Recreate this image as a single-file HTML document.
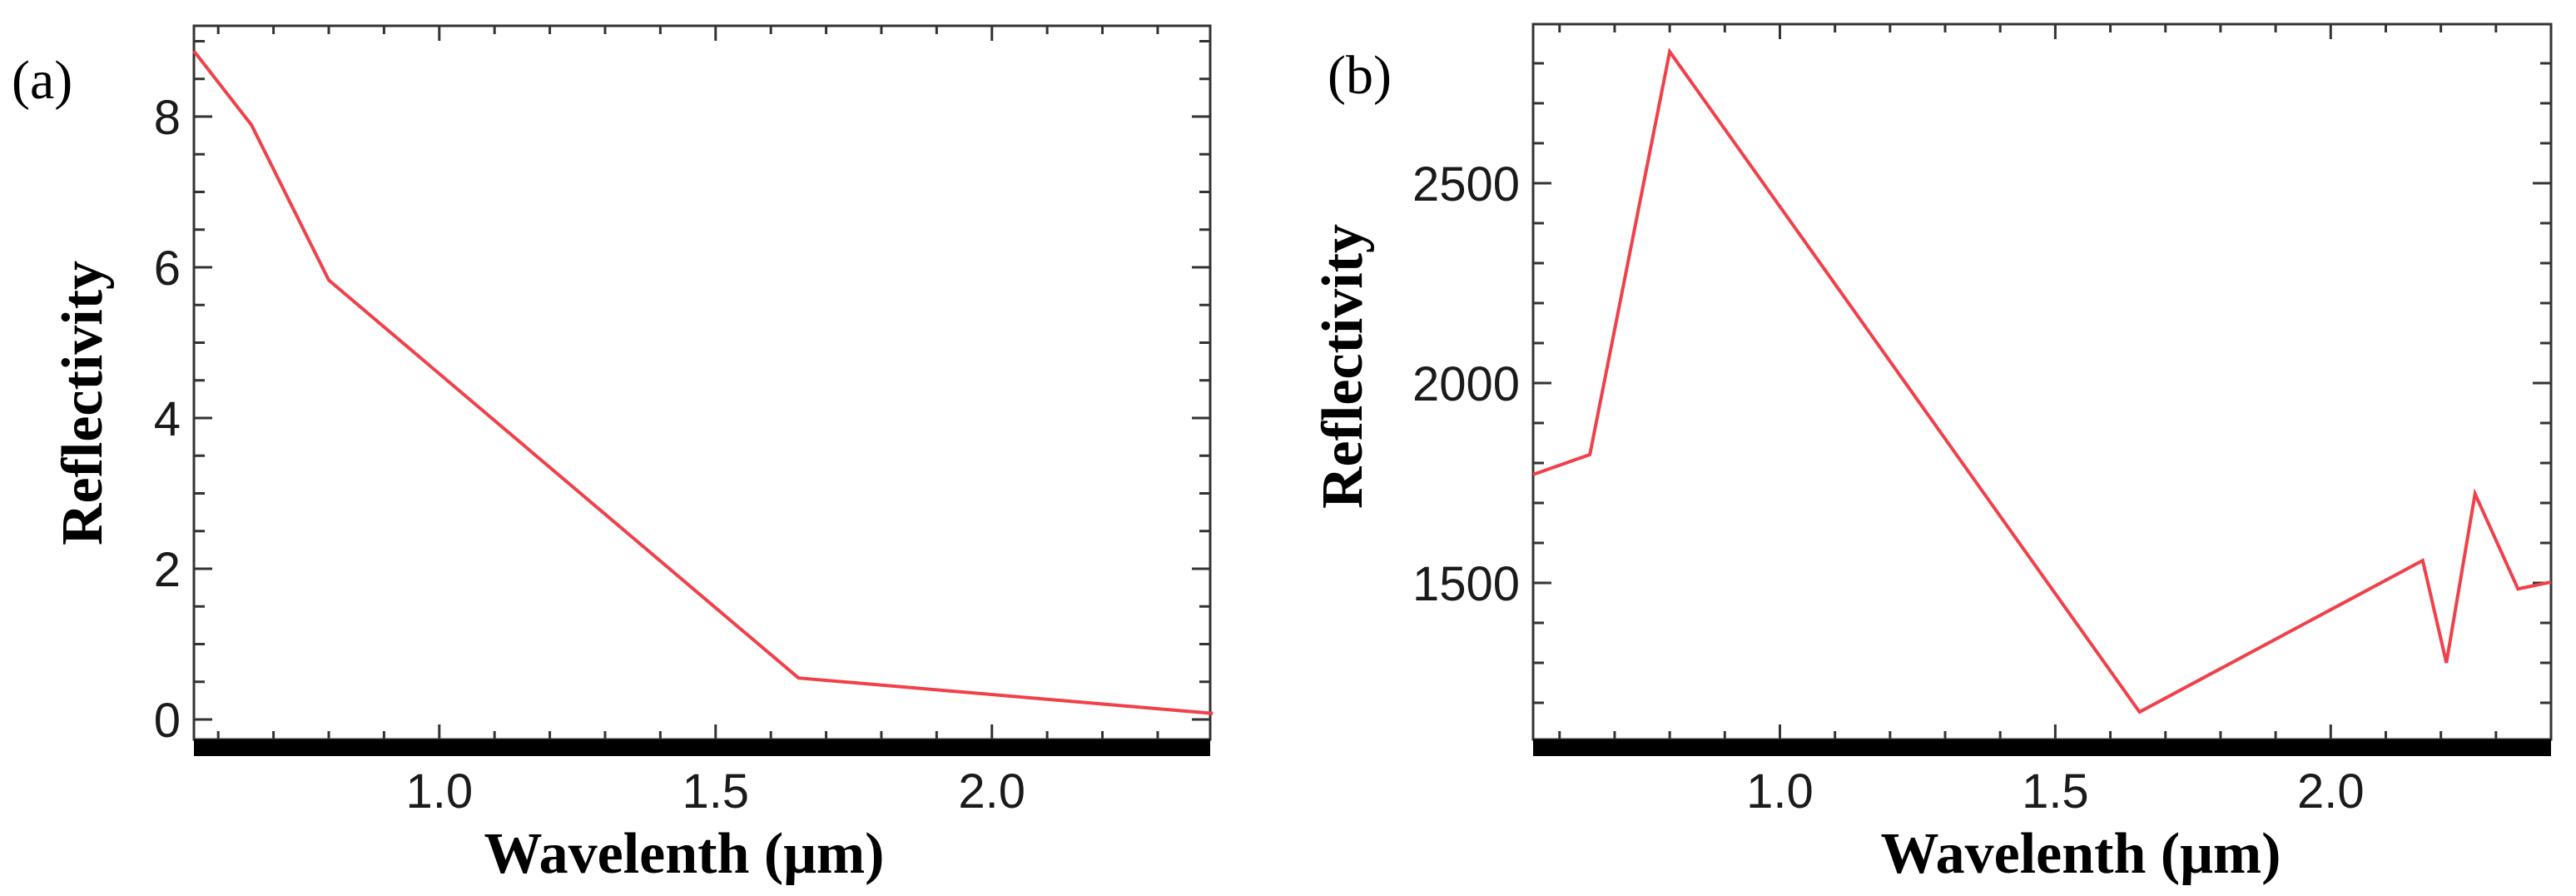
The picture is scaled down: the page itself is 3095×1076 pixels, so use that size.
<!DOCTYPE html>
<html><head><meta charset="utf-8"><style>
html,body{margin:0;padding:0;background:#fff;}
svg{display:block;}
.tick{font-family:"Liberation Sans Narrow","Liberation Sans",sans-serif;font-size:58px;fill:#1a1a1a;}
.title{font-family:"Liberation Serif",serif;font-weight:bold;font-size:70px;fill:#000;}
.panel{font-family:"Liberation Serif",serif;font-size:66px;fill:#000;}
</style></head><body>
<svg id="fig" width="3095" height="1076" viewBox="0 0 3095 1076" xmlns="http://www.w3.org/2000/svg"></svg>
<script>
const wlA = [0.556, 0.66, 0.80, 1.65, 2.40];
const reflA = [8.87, 7.89, 5.83, 0.55, 0.08];
const wlB = [0.552, 0.655, 0.80, 1.653, 2.167, 2.21, 2.262, 2.34, 2.40];
const reflB = [1771, 1821, 2829, 1177, 1556, 1300, 1723, 1485, 1502];
const xTicks = [1.0, 1.5, 2.0];
const xTickLabels = ["1.0", "1.5", "2.0"];
const yTicksA = [0, 2, 4, 6, 8];
const yTicksB = [1500, 2000, 2500];

const NS = "http://www.w3.org/2000/svg";
const svg = document.getElementById('fig');
function mk(tag, attrs, parent){const e=document.createElementNS(NS,tag);for(const k in attrs)e.setAttribute(k,attrs[k]);(parent||svg).appendChild(e);return e;}

function panel(cfg){
  const g = mk('g',{});
  
  
  const L=cfg.L,R=cfg.R,T=cfg.T,B=cfg.B;
  const xs=v=>L+(v-cfg.x0)/(cfg.x1-cfg.x0)*(R-L);
  const ys=v=>cfg.yA+(v-cfg.yAv)*cfg.yPer;
  const fr = mk('rect',{x:L,y:T,width:R-L,height:B-T,fill:'none',stroke:'#333','stroke-width':3},g);
  
  
  const bar = mk('rect',{x:L,y:B,width:R-L,height:20,fill:'#000'},g);
  
  
  for(let v=0.6; v<=cfg.x1+1e-9; v+=0.1){
    const vv=Math.round(v*10)/10; const x=xs(vv);
    const major=Math.abs(vv*2-Math.round(vv*2))<1e-6;
    const len=major?18:10;
    const t1 = mk('line',{x1:x,y1:T,x2:x,y2:T+len,stroke:'#333','stroke-width':3},g);
    
    
    const t2 = mk('line',{x1:x,y1:B,x2:x,y2:B-len,stroke:'#333','stroke-width':3},g);
    
    
  }
  xTicks.forEach((v,i)=>{
    const t = mk('text',{x:xs(v),y:B+82,'text-anchor':'middle',class:'tick'},g);
    t.textContent=xTickLabels[i];
    
    
  });
  for(let v=cfg.yMinorStart; ys(v)>=T; v+=cfg.yMinor){
    const y=ys(v); if(y>B) continue;
    const major=Math.abs(v/cfg.yMajor-Math.round(v/cfg.yMajor))<1e-6;
    const len=major?22:13;
    const a = mk('line',{x1:L,y1:y,x2:L+len,y2:y,stroke:'#333','stroke-width':3},g);
    
    
    const b = mk('line',{x1:R,y1:y,x2:R-len,y2:y,stroke:'#333','stroke-width':3},g);
    
    
  }
  cfg.yTicks.forEach(v=>{
    const t = mk('text',{x:L-16,y:ys(v)+21,'text-anchor':'end',class:'tick'},g);
    t.textContent=String(v);
    
    
  });
  const pts=cfg.xv.map((x,i)=>xs(x).toFixed(1)+','+ys(cfg.yv[i]).toFixed(1)).join(' ');
  const pl = mk('polyline',{points:pts,fill:'none',stroke:'#f0404a','stroke-width':4,'stroke-linejoin':'miter'},g);
  
  
  const yt = mk('text',{x:0,y:0,'text-anchor':'middle',class:'title',transform:`translate(${cfg.ytx},${cfg.yty}) rotate(-90)`},g);
  yt.textContent='Reflectivity';
  
  
  const xt = mk('text',{x:cfg.xtx,y:1048,'text-anchor':'middle',class:'title'},g);
  xt.textContent='Wavelenth  (μm)';
  
  
  const pt = mk('text',{x:cfg.plx,y:cfg.ply,class:'panel'},g);
  pt.textContent=cfg.label;
  
  
}

panel({name:'chart-a',L:233,R:1454,T:31,B:888,x0:0.556,x1:2.395,
  yA:864,yAv:0,yPer:-90.5,yMajor:2,yMinor:0.5,yMinorStart:0,yTicks:yTicksA,
  xv:wlA,yv:reflA,ytx:122,yty:484,xtx:822,plx:14,ply:118,label:'(a)'});
panel({name:'chart-b',L:1842,R:3065,T:29,B:888,x0:0.552,x1:2.40,
  yA:700,yAv:1500,yPer:-0.48,yMajor:500,yMinor:100,yMinorStart:1100,yTicks:yTicksB,
  xv:wlB,yv:reflB,ytx:1636,yty:440,xtx:2500,plx:1595,ply:112,label:'(b)'});
</script>
</body></html>
